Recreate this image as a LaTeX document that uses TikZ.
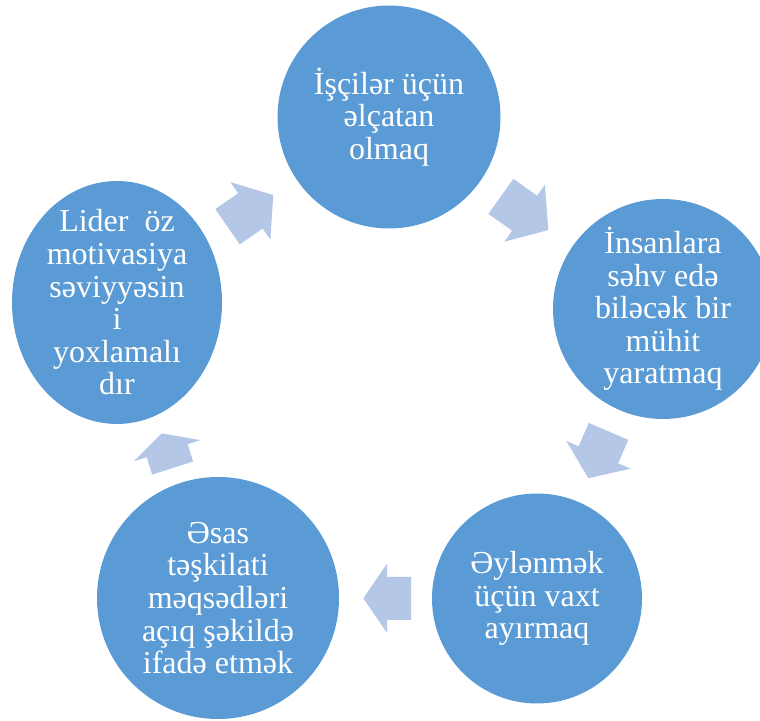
\documentclass[tikz,border=0pt]{standalone}
\usepackage{fontspec}
\setmainfont{Liberation Serif}
\usetikzlibrary{shapes.geometric}
\definecolor{bubblecol}{HTML}{5B9BD5}
\definecolor{arrowcol}{HTML}{B4C7E7}
\tikzset{
  bubble/.style={circle, fill=bubblecol, draw=none, inner sep=0pt},
  oval/.style={ellipse, fill=bubblecol, draw=none, inner sep=0pt},
  bubbletext/.style={text=white, align=center, inner sep=0pt,
    font=\fontsize{32}{32.6}\selectfont},
  pics/barrow/.style={code={
    \fill[arrowcol] (-#1/2,-21.5) -- (0,-21.5) -- (0,-35) -- (#1/2,0)
      -- (0,35) -- (0,21.5) -- (-#1/2,21.5) -- cycle;}}
}
\begin{document}
\begin{tikzpicture}[x=1pt,y=1pt]
\useasboundingbox (0,0) rectangle (760,720);
\clip (0,0) rectangle (760,720);
% circles
\node[bubble, minimum size=223pt] (top) at (389,603) {};
\node[bubble, minimum size=220pt] (right) at (663,411) {};
\node[bubble, minimum size=210pt] (bright) at (537,121.5) {};
\node[bubble, minimum size=242pt] (bleft) at (218,122) {};
\node[oval, minimum width=210pt, minimum height=243pt] (left) at (117,417.5) {};
% texts
\node[bubbletext] (toptext) at (top) {İşçilər üçün\\əlçatan\\olmaq};
\node[bubbletext] (righttext) at (right) {İnsanlara\\səhv edə\\biləcək bir\\mühit\\yaratmaq};
\node[bubbletext] (brighttext) at (bright) {Əylənmək\\üçün vaxt\\ayırmaq};
\node[bubbletext] (blefttext) at (bleft) {Əsas\\təşkilati\\məqsədləri\\açıq şəkildə\\ifadə etmək};
\node[bubbletext] (lefttext) at (left) {Lider~~öz\\motivasiya\\səviyyəsin\\i\\yoxlamalı\\dır};
% block arrows
\pic[rotate=34.8] at (250.4,509.1) {barrow=55.6};
\pic[rotate=-35.4] at (524.6,506.8) {barrow=58.2};
\pic[rotate=-113.3] at (598.4,265.2) {barrow=51};
\pic[rotate=180] at (387.2,121.7) {barrow=47.7};
\pic[rotate=107.6] at (167.2,269.3) {barrow=36.4};
\end{tikzpicture}
\end{document}
